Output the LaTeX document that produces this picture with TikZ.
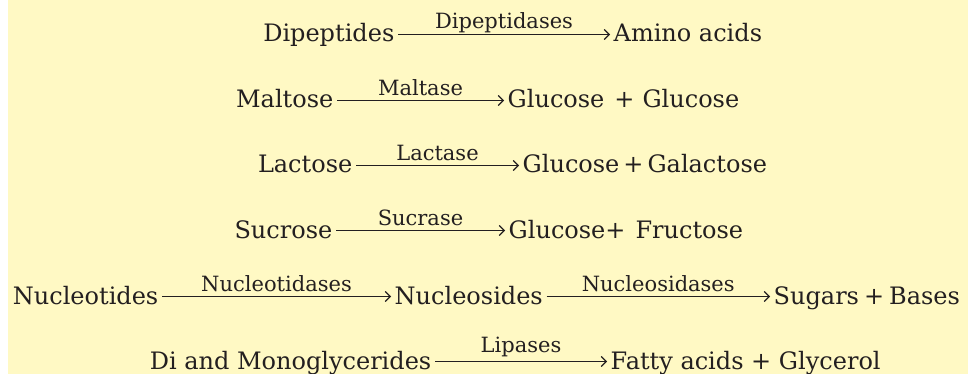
\documentclass[tikz,border=0pt]{standalone}
\usepackage{fontspec}
\setmainfont{DejaVu Serif}
\usetikzlibrary{arrows.meta}
\definecolor{bgyellow}{RGB}{255,249,196}
\definecolor{ink}{RGB}{35,31,32}
\begin{document}
\begin{tikzpicture}[x=1pt,y=-1pt,
  term/.style={font=\fontsize{24}{26}\selectfont, text=ink, inner xsep=3.5pt, inner ysep=0pt, text height=17pt, text depth=2pt},
  src/.style={term, anchor=base east},
  tgt/.style={term, anchor=base west},
  arr/.style={draw=ink, line width=1.1pt, -{Straight Barb[length=5pt,width=10pt,line width=1.1pt]}},
  lbl/.style={midway, anchor=base, yshift=5pt, inner sep=0pt, font=\fontsize{21}{23}\selectfont, text=ink}]
\useasboundingbox (0,0) rectangle (968,374);
\fill[bgyellow] (8,0) rectangle (968,374);
% row 1
\node[src] (dip) at (398,42) {Dipeptides};
\node[tgt] (ami) at (610,42) {Amino acids};
\draw[arr] (dip.east) -- (ami.west) node[lbl, yshift=1pt] {Dipeptidases};
% row 2
\node[src] (mal) at (337,108) {Maltose};
\node[tgt] (glc1) at (504,108) {Glucose\hspace{10pt}+\hspace{8pt}Glucose};
\draw[arr] (mal.east) -- (glc1.west) node[lbl] {Maltase};
% row 3
\node[src] (lac) at (356,173) {Lactose};
\node[tgt] (glc2) at (519,173) {Glucose\,+\,Galactose};
\draw[arr] (lac.east) -- (glc2.west) node[lbl] {Lactase};
% row 4
\node[src] (suc) at (336,238) {Sucrose};
\node[tgt] (glc3) at (505,238) {Glucose+\hspace{10pt}Fructose};
\draw[arr] (suc.east) -- (glc3.west) node[lbl] {Sucrase};
% row 5
\node[src] (nct) at (162,304) {Nucleotides};
\node[tgt] (ncs) at (391,304) {Nucleosides};
\node[tgt] (sug) at (770,304) {Sugars\hspace{5pt}+\hspace{5pt}Bases};
\draw[arr] (nct.east) -- (ncs.west) node[lbl] {Nucleotidases};
\draw[arr] (ncs.east) -- (sug.west) node[lbl] {Nucleosidases};
% row 6
\node[src] (dmg) at (435,369) {Di and Monoglycerides};
\node[tgt] (fat) at (607,369) {Fatty acids + Glycerol};
\draw[arr] (dmg.east) -- (fat.west) node[lbl, yshift=4pt] {Lipases};
\end{tikzpicture}
\end{document}
